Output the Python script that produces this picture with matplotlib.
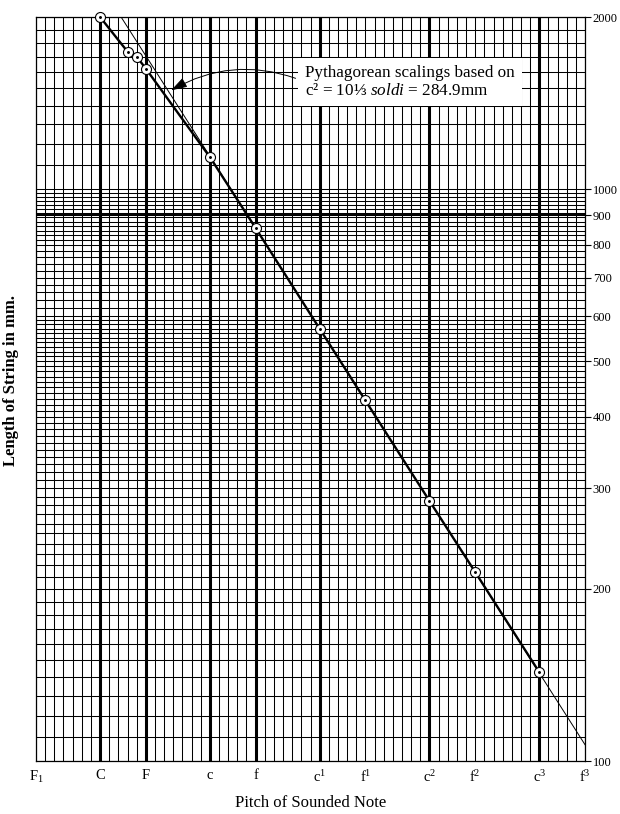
import numpy as np
import matplotlib.pyplot as plt
from matplotlib.ticker import FixedLocator, NullFormatter

plt.rcParams['font.family'] = ['Liberation Serif', 'DejaVu Serif']
plt.rcParams['mathtext.fontset'] = 'custom'
plt.rcParams['mathtext.rm'] = 'Liberation Serif'
plt.rcParams['mathtext.it'] = 'Liberation Serif:italic'

# x axis: semitones above F1
note_labels = ['F$_1$', 'C', 'F', 'c', 'f', 'c$^1$', 'f$^1$', 'c$^2$', 'f$^2$', 'c$^3$', 'f$^3$']
note_semitones = [0, 7, 12, 19, 24, 31, 36, 43, 48, 55, 60]
bold_semitones = [7, 12, 19, 24, 31, 43, 55]

length_ticks = [100, 200, 300, 400, 500, 600, 700, 800, 900, 1000, 2000]

# Pythagorean scalings (string length in mm)
point_semitones = [7, 10, 11, 12, 19, 24, 31, 36, 43, 48, 55]
point_lengths = [2000, 1740, 1705, 1625, 1138, 855, 570, 427, 285, 214, 143]

# thin reference line, end points
ref_semitones = [9.3, 60]
ref_lengths = [2000, 106.8]

fig = plt.figure(figsize=(6.2, 8.14), dpi=100)
ax = fig.add_axes([36/620, 1 - 761/814, 549/620, 744/814])
ax.set_yscale('log')
ax.set_xlim(0, 60)
ax.set_ylim(100, 2000)

# graph paper
minor_y = np.concatenate([np.arange(110, 600, 10), np.arange(600, 800, 20),
                          np.linspace(800, 1000, 14)[:-1], np.arange(1100, 2000, 100)])
ax.yaxis.set_major_locator(FixedLocator(length_ticks))
ax.yaxis.set_minor_locator(FixedLocator(minor_y))
ax.yaxis.set_major_formatter(plt.FuncFormatter(lambda v, p: f'{v:.0f}'))
ax.yaxis.set_minor_formatter(NullFormatter())
ax.yaxis.tick_right()
ax.xaxis.set_major_locator(FixedLocator(note_semitones))
ax.xaxis.set_minor_locator(FixedLocator(np.arange(61)))
ax.set_xticklabels(note_labels)
ax.tick_params(axis='y', which='major', length=4, width=0.8, pad=1.5, labelsize=9)
ax.tick_params(axis='x', which='major', length=0, pad=6, labelsize=10.5)
ax.tick_params(which='minor', length=0)
ax.grid(which='both', color='k', lw=0.75)
for s in ax.spines.values():
    s.set_linewidth(0.9)
for s in bold_semitones:
    ax.axvline(s, color='k', lw=2.2, zorder=1.5)
ax.axhline(900, color='k', lw=1.4, zorder=1.5)

ax.plot(ref_semitones, ref_lengths, color='k', lw=0.7, zorder=3)
ax.plot(point_semitones, point_lengths, color='k', lw=1.7, zorder=3)
ax.plot(point_semitones, point_lengths, 'o', ms=7.2, mfc='w', mec='k', mew=0.8,
        zorder=4, clip_on=False)
ax.plot(point_semitones, point_lengths, '.', ms=2.2, color='k', zorder=5, clip_on=False)

ax.annotate('Pythagorean scalings based on\nc² = 10⅓ $\\it{soldi}$ = 284.9mm',
            xy=(14.5, 1480), xytext=(29.4, 1540), fontsize=12.3,
            ha='left', va='center', linespacing=1.15,
            bbox=dict(boxstyle='square,pad=0.4', fc='w', ec='none'),
            arrowprops=dict(arrowstyle='-|>,head_length=0.8,head_width=0.25', color='k',
                            lw=0.7, connectionstyle='arc3,rad=0.25', relpos=(0, 0.5)),
            zorder=6)

ax.set_xlabel('Pitch of Sounded Note', fontsize=12, labelpad=7)
fig.text(11/620, 1 - 380/814, 'Length of String in mm.', rotation=90, fontsize=12,
         fontweight='bold', ha='center', va='center')

fig.savefig('out.png')
